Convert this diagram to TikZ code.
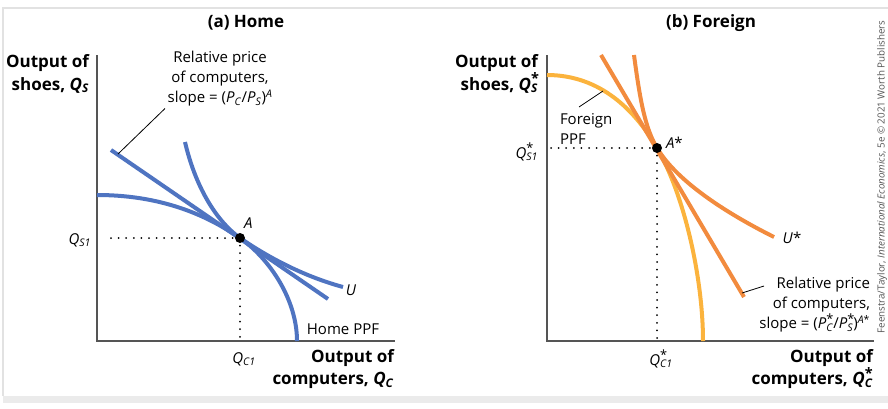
\documentclass[tikz,border=0pt]{standalone}
\usepackage{fontspec}
\setmainfont{Open Sans}
\usetikzlibrary{calc}
\definecolor{homeblue}{HTML}{4F74C1}
\definecolor{forange}{HTML}{F28B3E}
\definecolor{fyellow}{HTML}{FBB33D}
\definecolor{axisgray}{HTML}{555555}
\definecolor{framegray}{HTML}{E2E2E2}
\newcommand{\qsub}[2]{\textit{#1}\textsubscript{\textit{#2}}}
\newcommand{\qstar}[2]{\textit{#1}\makebox[0pt][l]{\raisebox{0.7ex}{\scalebox{0.85}{*}}}\textsubscript{\textit{#2}}}

\begin{document}
\begin{tikzpicture}[x=1pt,y=-1pt,line width=4pt,
  axis/.style={draw=axisgray,line width=1.4pt},
  guide/.style={line width=2pt,line cap=round,dash pattern=on 0pt off 7.6pt},
  leader/.style={line width=0.8pt},
  lbl/.style={font=\fontsize{15}{20}\selectfont,inner sep=0pt},
  axlbl/.style={font=\fontsize{17}{22.5}\selectfont\bfseries,inner sep=0pt,align=right,anchor=east},
  ttl/.style={font=\fontsize{17}{20}\selectfont\bfseries,inner sep=0pt}]
  \useasboundingbox (0,0) rectangle (888,408);
  % marco
  \fill[framegray!70] (3,396) rectangle (888,403);
  \draw[framegray,line width=1.5pt] (3,396) -- (3,8) -- (888,8);

  % ---------- (a) Home ----------
  \node[ttl] (ta) at (246,23) {(a) Home};
  \coordinate (A) at (240,238);
  \coordinate (Hline1) at (111,150);
  \coordinate (Hline2) at (328,299);
  \draw[axis] (97,55) |- (395,341);
  \draw[guide] (111,238) -- (A);
  \draw[guide] (A) -- (240,341);
  % PPF
  \draw[homeblue] (97,195) .. controls (170,195) and (215,221) .. (A)
    .. controls (270,259) and (297,300) .. (297,341);
  % precio relativo
  \draw[homeblue] (Hline1) -- (Hline2);
  % U
  \draw[homeblue] (185,142) .. controls (195,185) and (215,220) .. (A)
    .. controls (275,262) and (310,278) .. (343,287);
  \fill (A) circle(5pt);
  \node[lbl,anchor=south west] (lA) at (242,230) {\textit{A}};
  \node[lbl] (lU) at (351,290) {\textit{U}};
  \node[lbl] (lppf) at (343,329) {Home PPF};
  \node[lbl,anchor=east] (lqs) at (93,240) {\qsub{Q}{S1}};
  \node[lbl] (lqc) at (244,359) {\qsub{Q}{C1}};
  \node[axlbl] (ly) at (91,74) {Output of\\shoes, \qsub{Q}{S}};
  \node[axlbl] (lx) at (396,369) {Output of\\computers, \qsub{Q}{C}};
  \node[lbl,align=center] (lprice) at (220,79)
    {Relative price\\of computers,\\slope = (\qsub{P}{C}/\qsub{P}{S})\textsuperscript{\textit{A}}};
  \coordinate (hp) at (118,154);
  \draw[leader] (hp) -- (lprice.south -| 165,0);

  % ---------- (b) Foreign ----------
  \node[ttl] (tb) at (711,23) {(b) Foreign};
  \coordinate (As) at (657,148);
  \draw[axis] (547,55) |- (874,341);
  \draw[guide] (551,148) -- (As);
  \draw[guide] (As) -- (657,341);
  % PPF
  \draw[fyellow] (547,75) .. controls (600,75) and (635,110) .. (As)
    .. controls (685,196) and (703,280) .. (703,341);
  % precio relativo
  \draw[forange] (601,55) -- (744,297);
  % U*
  \draw[forange] (634,55) .. controls (640,100) and (645,128) .. (As)
    .. controls (678,183) and (730,215) .. (774,237);
  \fill (As) circle(5pt);
  \node[lbl,anchor=south west] (lAs) at (664,150) {\textit{A}*};
  \node[lbl] (lUs) at (792,238) {\textit{U}*};
  \node[lbl,anchor=east] (lqss) at (540,152) {\qstar{Q}{S1}};
  \node[lbl] (lqcs) at (661,359) {\qstar{Q}{C1}};
  \node[axlbl] (lys) at (540,74) {Output of\\shoes, \qstar{Q}{S}};
  \node[axlbl] (lxs) at (875,369) {Output of\\computers, \qstar{Q}{C}};
  \node[lbl,align=left,anchor=west] (lfppf) at (558,129) {Foreign\\PPF};
  \coordinate (fp) at (603,91);
  \draw[leader] (579,107) -- (fp);
  \node[lbl,align=right,anchor=east] (lprices) at (872,305)
    {Relative price\\of computers,\\slope = (\qstar{P}{C}/\qstar{P}{S})\textsuperscript{\textit{A}*}};
  \coordinate (fl) at (742,293);
  \draw[leader] (fl) -- (764,286);

  % fuente
  \node[rotate=90,font=\fontsize{9.8}{12}\selectfont,text=axisgray,inner sep=0pt] (src) at (882,177)
    {Feenstra/Taylor, \textit{International Economics}, 5e © 2021 Worth Publishers};
\end{tikzpicture}
\end{document}
